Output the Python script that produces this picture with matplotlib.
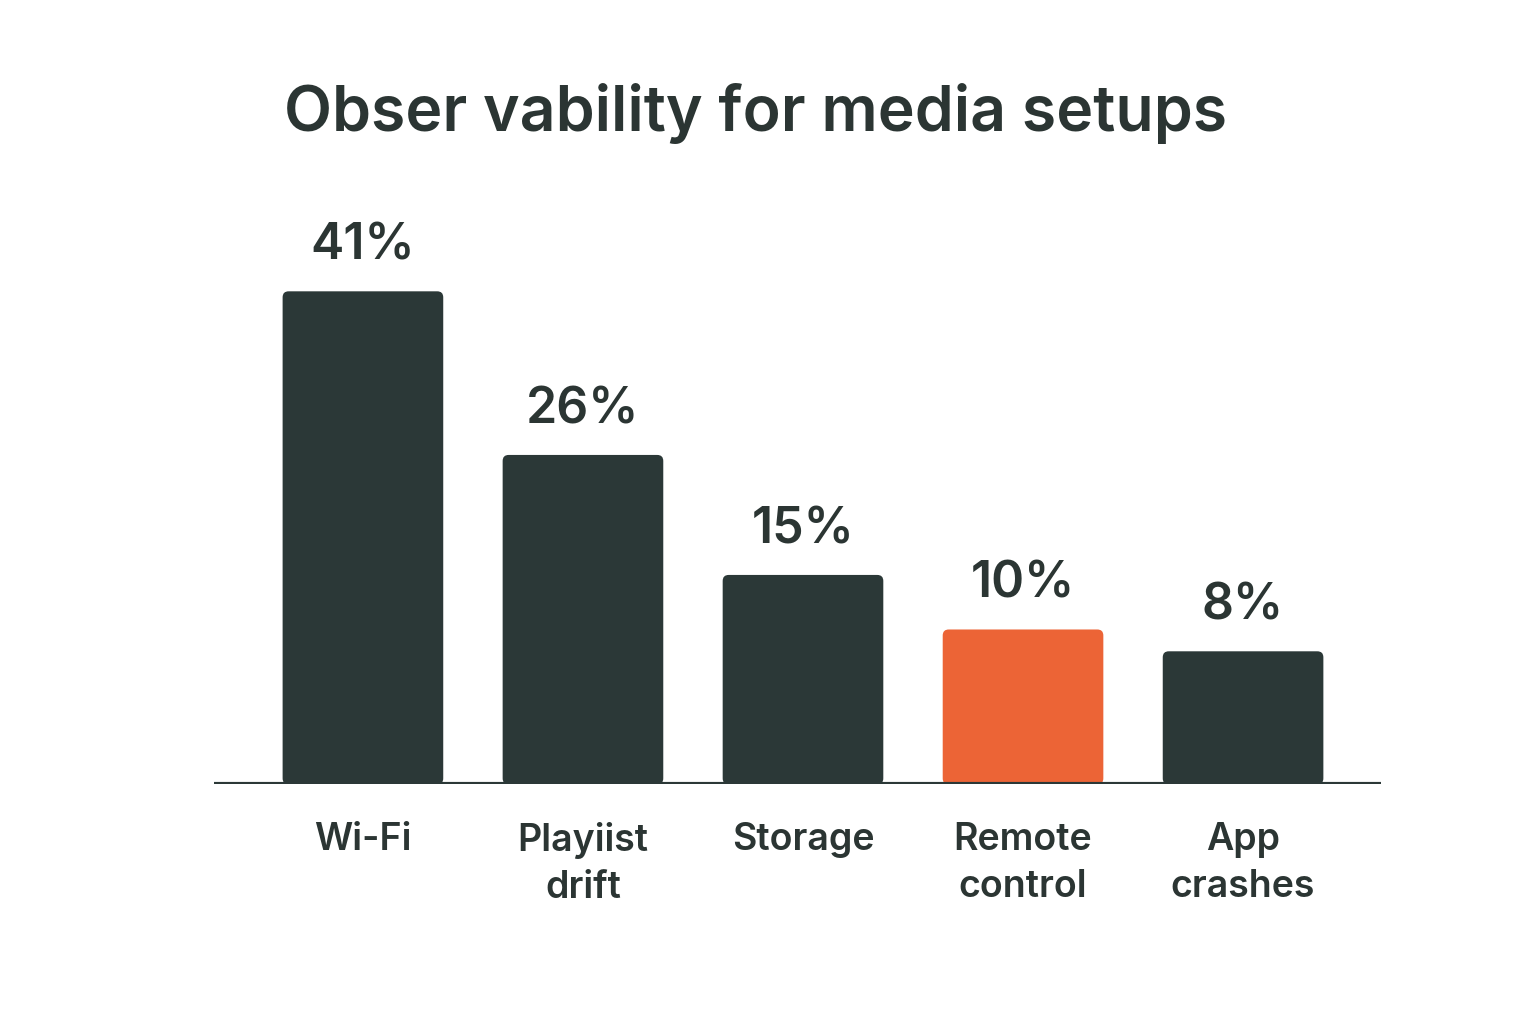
import matplotlib.pyplot as plt
from matplotlib.patches import FancyBboxPatch

plt.rcParams['font.family'] = ['Inter', 'DejaVu Sans']

# data
categories = ['Wi-Fi', 'Playiist\ndrift', 'Storage', 'Remote\ncontrol', 'App\ncrashes']
values = [41, 26, 15, 10, 8]
highlight = 'Remote\ncontrol'

dark = '#2b3837'
orange = '#ec6436'
text_col = '#2b3533'

base = -4.2   # bars start a bit below zero, like the original
top = 49.4
width = 0.73

fig = plt.figure(figsize=(15.36, 10.24), dpi=100)
ax = fig.add_axes([0.1393, 0.234, 0.7598, 0.571])
ax.set_xlim(-0.677, 4.627)
ax.set_ylim(base, top)

# px per data unit, for the rounded corners
px_x = 0.7598 * 1536 / (4.627 + 0.677)
px_y = 0.571 * 1024 / (top - base)

for i, (cat, v) in enumerate(zip(categories, values)):
    col = orange if cat == highlight else dark
    patch = FancyBboxPatch((i - width / 2, base), width, v - base,
                           boxstyle='round,pad=0,rounding_size=%f' % (6 / px_x),
                           mutation_aspect=px_x / px_y,
                           fc=col, ec='none')
    ax.add_patch(patch)
    ax.text(i, v + 2.0, '%d%%' % v, ha='center', va='bottom',
            fontsize=36, fontweight='semibold', color=text_col)

ax.axhline(base, color=dark, lw=3, zorder=5)
for s in ax.spines.values():
    s.set_visible(False)
ax.set_yticks([])
ax.set_xticks(range(len(categories)))
ax.set_xticklabels(categories, fontsize=27, fontweight='semibold',
                   color=text_col, linespacing=1.4)
ax.tick_params(axis='x', length=0, pad=27)

fig.text(284 / 1536, 1 - 114 / 1024, 'Obser vability for media setups',
         ha='left', va='center', fontsize=45, fontweight='semibold', color=text_col)

fig.savefig('out.png', dpi=100, facecolor='white')
